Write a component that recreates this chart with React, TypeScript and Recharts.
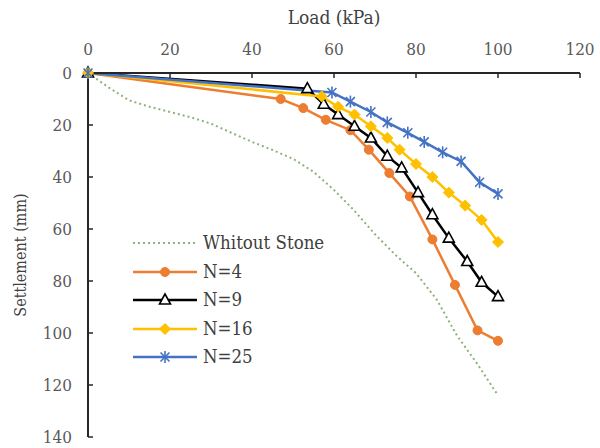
import React from 'react'
import { LineChart, Line, XAxis, YAxis, Legend } from 'recharts'

// [load kPa, settlement mm]
const withoutStone: [number, number][] = [
  [0, 0], [5, 5.5], [10, 10.5], [15, 13], [20, 15], [25, 17], [30, 19.5], [35, 23],
  [40, 26.5], [45, 29.6], [50, 33], [55, 38], [60, 45], [65, 53], [70, 62], [75, 70],
  [80, 77], [85, 87], [90, 101], [95, 112], [100, 124],
]
const n4: [number, number][] = [
  [0, 0], [47, 10], [52.5, 13.5], [58, 18], [64, 22], [68.5, 29.5], [73.5, 38.5],
  [78.5, 47.5], [84, 64], [89.5, 81.5], [95, 99], [100, 103],
]
const n9: [number, number][] = [
  [0, 0], [53.5, 6], [57.5, 12], [61, 16], [65, 20.5], [69, 25], [73, 32], [76.5, 36.5],
  [80.5, 46], [84, 54.5], [88, 63.5], [92.5, 72.5], [96, 80.5], [100, 86],
]
const n16: [number, number][] = [
  [0, 0], [57, 9], [61, 13], [65, 16], [69, 20.5], [73, 25], [76, 29.5], [80, 35],
  [84, 40], [88, 46], [92, 51], [96, 56.5], [100, 65],
]
const n25: [number, number][] = [
  [0, 0], [59.5, 7.5], [64, 11], [69, 15], [73, 19], [78, 23], [82, 26.5], [86.5, 30.5],
  [91, 34], [95.5, 42], [100, 46.5],
]

const loadTicks = [0, 20, 40, 60, 80, 100, 120]
const settlementTicks = [0, 20, 40, 60, 80, 100, 120, 140]

const toRows = (pts: [number, number][]) => pts.map(([load, settlement]) => ({ load, settlement }))

const FONT = "'DejaVu Serif Condensed', 'DejaVu Serif', serif"
const GREEN = '#8DB27A'
const ORANGE = '#ED7D31'
const YELLOW = '#FFC000'
const BLUE = '#4472C4'

type Mk = 'circle' | 'triangle' | 'diamond' | 'star' | null

function marker(kind: Mk, cx: number, cy: number, color: string, key?: React.Key) {
  if (kind === 'circle') return <circle key={key} cx={cx} cy={cy} r={4.5} fill={color} stroke={color} />
  if (kind === 'triangle')
    return (
      <polygon key={key} points={`${cx},${cy - 6} ${cx - 5.5},${cy + 4} ${cx + 5.5},${cy + 4}`}
        fill="#fff" stroke={color} strokeWidth={1.6} />
    )
  if (kind === 'diamond')
    return (
      <polygon key={key} points={`${cx},${cy - 5.5} ${cx + 5.5},${cy} ${cx},${cy + 5.5} ${cx - 5.5},${cy}`}
        fill={color} stroke={color} />
    )
  if (kind === 'star')
    return (
      <g key={key} stroke={color} strokeWidth={1.6}>
        <line x1={cx - 4.5} y1={cy - 4.5} x2={cx + 4.5} y2={cy + 4.5} />
        <line x1={cx - 4.5} y1={cy + 4.5} x2={cx + 4.5} y2={cy - 4.5} />
        <line x1={cx} y1={cy - 6} x2={cx} y2={cy + 6} />
      </g>
    )
  return <g key={key} />
}

const dotFor = (kind: Mk, color: string) => (p: any) => marker(kind, p.cx, p.cy, color, `${kind}-${p.index}`)

const legendItems: { name: string; color: string; kind: Mk; dash?: string }[] = [
  { name: 'Whitout Stone', color: GREEN, kind: null, dash: '2 3' },
  { name: 'N=4', color: ORANGE, kind: 'circle' },
  { name: 'N=9', color: '#000', kind: 'triangle' },
  { name: 'N=16', color: YELLOW, kind: 'diamond' },
  { name: 'N=25', color: BLUE, kind: 'star' },
]

function LegendBox() {
  return (
    <div style={{ fontFamily: FONT, fontSize: 18.5, color: '#404040', whiteSpace: 'nowrap' }}>
      {legendItems.map(it => (
        <div key={it.name} style={{ display: 'flex', alignItems: 'center', height: 28.5 }}>
          <svg width={66} height={28} style={{ display: 'block' }}>
            <line x1={0} y1={14} x2={64} y2={14} stroke={it.color} strokeWidth={it.dash ? 2 : 2.5}
              strokeDasharray={it.dash} />
            {marker(it.kind, 32, 14, it.color)}
          </svg>
          <span style={{ marginLeft: 4, lineHeight: '28px' }}>{it.name}</span>
        </div>
      ))}
    </div>
  )
}

export default function App() {
  return (
    <div style={{ position: 'absolute', left: 0, top: 0, background: '#fff' }}>
      <LineChart width={600} height={448} margin={{ top: 13, right: 20, bottom: 11, left: 8 }}>
        <XAxis
          type="number"
          dataKey="load"
          orientation="top"
          domain={[0, 120]}
          ticks={loadTicks}
          height={60}
          allowDuplicatedCategory={false}
          axisLine={{ stroke: '#262626', strokeWidth: 2 }}
          tickLine={{ stroke: '#262626', strokeWidth: 1.5 }}
          tickSize={-5}
          tickMargin={23}
          tick={{ fontSize: 17, fill: '#595959', fontFamily: FONT }}
          label={{
            content: (p: any) => {
              const vb = p.viewBox
              return (
                <text x={vb.x + vb.width / 2} y={24} textAnchor="middle" fontSize={19}
                  fontFamily={FONT} fill="#404040">Load (kPa)</text>
              )
            },
          }}
        />
        <YAxis
          type="number"
          dataKey="settlement"
          reversed
          domain={[0, 140]}
          ticks={settlementTicks}
          width={80}
          axisLine={{ stroke: '#262626', strokeWidth: 2 }}
          tickLine={{ stroke: '#262626', strokeWidth: 1.5 }}
          tickSize={-5}
          tickMargin={21}
          tick={{ fontSize: 17, fill: '#595959', fontFamily: FONT }}
          label={{
            content: (p: any) => {
              const vb = p.viewBox
              const cy = vb.y + vb.height / 2
              return (
                <text x={20} y={cy} transform={`rotate(-90, 20, ${cy})`} textAnchor="middle"
                  dominantBaseline="central" fontSize={16} fontFamily={FONT} fill="#404040">
                  Settlement (mm)
                </text>
              )
            },
          }}
        />
        <Legend
          layout="vertical"
          align="center"
          verticalAlign="middle"
          wrapperStyle={{ left: 133, top: 229, width: 260 }}
          content={() => <LegendBox />}
        />
        <Line data={toRows(withoutStone)} dataKey="settlement" name="Whitout Stone" stroke={GREEN}
          strokeWidth={2} strokeDasharray="2 3" dot={false} isAnimationActive={false} />
        <Line data={toRows(n4)} dataKey="settlement" name="N=4" stroke={ORANGE} strokeWidth={2.5}
          dot={dotFor('circle', ORANGE)} isAnimationActive={false} />
        <Line data={toRows(n9)} dataKey="settlement" name="N=9" stroke="#000" strokeWidth={2.5}
          dot={dotFor('triangle', '#000')} isAnimationActive={false} />
        <Line data={toRows(n16)} dataKey="settlement" name="N=16" stroke={YELLOW} strokeWidth={2.5}
          dot={dotFor('diamond', YELLOW)} isAnimationActive={false} />
        <Line data={toRows(n25)} dataKey="settlement" name="N=25" stroke={BLUE} strokeWidth={2.5}
          dot={dotFor('star', BLUE)} isAnimationActive={false} />
      </LineChart>
    </div>
  )
}
